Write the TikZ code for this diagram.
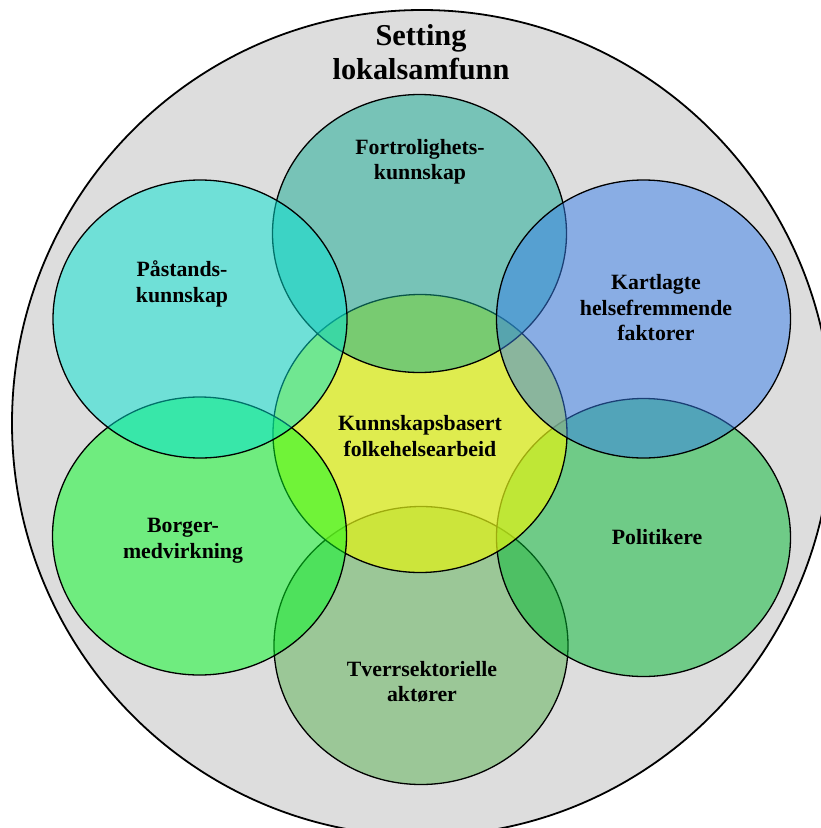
\documentclass[tikz,border=0pt]{standalone}
\usepackage{fontspec}
\setmainfont{Liberation Serif}
\usetikzlibrary{shapes.geometric}
\definecolor{outergray}{RGB}{221,221,221}
\definecolor{cpast}{RGB}{3,227,211}
\definecolor{cfort}{RGB}{19,171,147}
\definecolor{ckart}{RGB}{55,127,235}
\definecolor{cborg}{RGB}{3,251,35}
\definecolor{cpoli}{RGB}{3,187,51}
\definecolor{ctver}{RGB}{91,179,83}
\definecolor{ccent}{RGB}{225,243,20}
\tikzset{
  bubble/.style={ellipse, draw=black, line width=1.3pt, minimum width=294pt,
    minimum height=278pt, inner sep=0pt, fill opacity=0.5},
  lbl/.style={align=center, inner sep=0pt, text=black,
    font=\fontsize{21.8}{25.5}\selectfont\bfseries},
  titlelbl/.style={align=center, inner sep=0pt, text=black,
    font=\fontsize{30.3}{34.5}\selectfont\bfseries}
}
\begin{document}
\begin{tikzpicture}[x=1pt,y=-1pt]
\useasboundingbox (0,0) rectangle (821,828);
\begin{scope}
\clip (0,0) rectangle (821,828);
\node[ellipse, draw=black, line width=1.8pt, fill=outergray, inner sep=0pt,
  minimum width=820pt, minimum height=826pt] (setting) at (422,423) {};
\node[bubble, fill=ctver] (tver) at (421,645.5) {};
\node[bubble, fill=cpoli] (poli) at (643.5,537.5) {};
\node[bubble, fill=ccent, fill opacity=0.7] (cent) at (420,433.5) {};
\node[bubble, fill=cfort] (fort) at (419.5,233.5) {};
\node[bubble, fill=ckart] (kart) at (643.5,319) {};
\node[bubble, fill=cborg] (borg) at (199.5,536) {};
\node[bubble, fill=cpast] (past) at (200,319) {};
\end{scope}
\node[titlelbl] (tsetting) at (421,52) {Setting\\lokalsamfunn};
\node[lbl] (tfort) at (420,162) {Fortrolighets-\\kunnskap};
\node[lbl] (tpast) at (182,284) {Påstands-\\kunnskap};
\node[lbl] (tkart) at (656,308) {Kartlagte\\helsefremmende\\faktorer};
\node[lbl] (tcent) at (420,436) {Kunnskapsbasert\\folkehelsearbeid};
\node[lbl] (tborg) at (183,541) {Borger-\\medvirkning};
\node[lbl] (tpoli) at (657,537) {Politikere};
\node[lbl] (ttver) at (422,682) {Tverrsektorielle\\aktører};
\end{tikzpicture}
\end{document}
